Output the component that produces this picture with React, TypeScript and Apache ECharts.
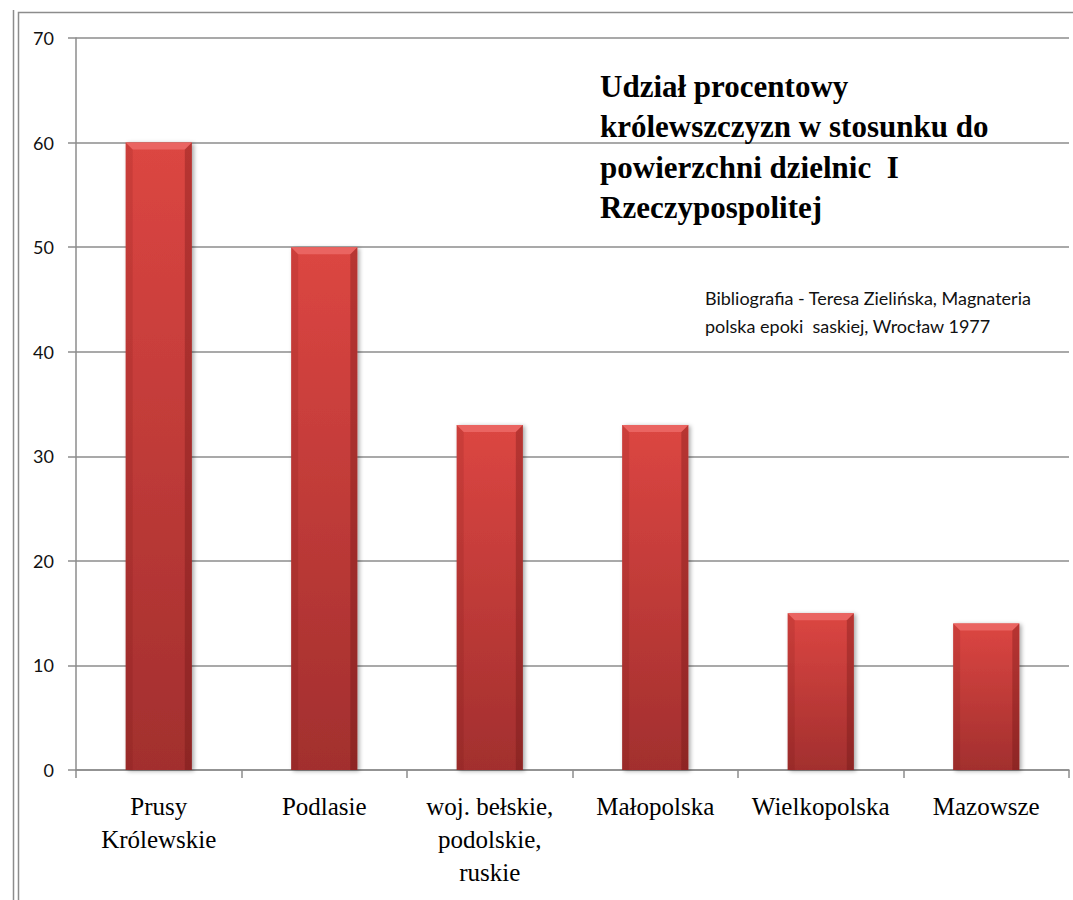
import React, { useEffect, useRef } from "react";
import * as echarts from "echarts";

const categories = [
  "Prusy\nKrólewskie",
  "Podlasie",
  "woj. bełskie,\npodolskie,\nruskie",
  "Małopolska",
  "Wielkopolska",
  "Mazowsze",
];
const values = [60, 50, 33, 33, 15, 14];
const yTicks = { min: 0, max: 70, interval: 10 };
const titleText = "Udział procentowy\nkrólewszczyzn w stosunku do\npowierzchni dzielnic  I\nRzeczypospolitej";
const sourceText = "Bibliografia - Teresa Zielińska, Magnateria\npolska epoki  saskiej, Wrocław 1977";

export default function App() {
  const ref = useRef<HTMLDivElement>(null);
  useEffect(() => {
    if (!ref.current) return;
    const chart = echarts.init(ref.current, undefined, { renderer: "svg" });
    const renderItem = (params: any, api: any) => {
      const idx = api.value(0);
      const v = api.value(1);
      const top = api.coord([idx, v]);
      const base = api.coord([idx, 0]);
      const bw = api.size([1, 0])[0] * 0.4;
      const x0 = top[0] - bw / 2;
      const x1 = top[0] + bw / 2;
      const y0 = top[1];
      const yb = base[1];
      const b = 7;
      return {
        type: "group",
        children: [
          {
            type: "rect",
            shape: { x: x0, y: y0, width: bw, height: yb - y0 },
            style: {
              fill: new echarts.graphic.LinearGradient(0, 0, 0, 1, [
                { offset: 0, color: "#DC4642" },
                { offset: 1, color: "#A22F2E" },
              ]),
              shadowBlur: 4,
              shadowOffsetX: 2,
              shadowOffsetY: 1,
              shadowColor: "rgba(0,0,0,0.35)",
            },
          },
          {
            type: "polygon",
            shape: { points: [[x0, y0], [x1, y0], [x1 - b, y0 + b], [x0 + b, y0 + b]] },
            style: { fill: "#EA6461" },
          },
          {
            type: "polygon",
            shape: { points: [[x1, y0], [x1, yb], [x1 - b, yb], [x1 - b, y0 + b]] },
            style: { fill: "rgba(90,10,10,0.28)" },
          },
          {
            type: "polygon",
            shape: { points: [[x0, y0], [x0 + b, y0 + b], [x0 + b, yb], [x0, yb]] },
            style: { fill: "rgba(90,10,10,0.12)" },
          },
        ],
      };
    };
    chart.setOption({
      animation: false,
      backgroundColor: "#ffffff",
      grid: { left: 76, right: 4, top: 38, bottom: 130, containLabel: false },
      xAxis: {
        type: "category",
        data: categories,
        boundaryGap: true,
        axisLine: { lineStyle: { color: "#8c8c8c", width: 1.5 } },
        axisTick: { show: true, length: 8, lineStyle: { color: "#8c8c8c", width: 1.5 } },
        axisLabel: {
          interval: 0,
          margin: 20,
          color: "#000",
          fontFamily: "Liberation Serif",
          fontSize: 25,
          lineHeight: 33,
        },
      },
      yAxis: {
        type: "value",
        min: yTicks.min,
        max: yTicks.max,
        interval: yTicks.interval,
        axisLine: { show: true, lineStyle: { color: "#8c8c8c", width: 1.5 } },
        axisTick: { show: true, length: 8, lineStyle: { color: "#8c8c8c", width: 1.5 } },
        splitLine: { show: true, lineStyle: { color: "#8c8c8c", width: 1.5 } },
        axisLabel: {
          margin: 22,
          color: "#111",
          fontFamily: "Lato",
          fontSize: 18,
        },
      },
      series: [
        {
          type: "custom",
          renderItem,
          data: values.map((v, i) => [i, v]),
          encode: { x: 0, y: 1 },
          z: 3,
        },
      ],
      graphic: [
        {
          type: "line",
          shape: { x1: 13.5, y1: 10, x2: 13.5, y2: 900 },
          style: { stroke: "#8c8c8c", lineWidth: 1.5 },
          silent: true,
        },
        {
          type: "polyline",
          shape: { points: [[18.5, 900], [18.5, 12.5], [1073, 12.5]] },
          style: { stroke: "#8c8c8c", lineWidth: 1.5, fill: "none" },
          silent: true,
        },
        {
          type: "text",
          left: 600,
          top: 66,
          style: {
            text: titleText,
            font: "bold 31px 'Liberation Serif'",
            lineHeight: 40.5,
            fill: "#000",
          },
          z: 10,
        },
        {
          type: "text",
          left: 705,
          top: 284,
          style: {
            text: sourceText,
            font: "18px Lato",
            lineHeight: 28,
            fill: "#111",
          },
          z: 10,
        },
      ],
    });
    return () => chart.dispose();
  }, []);
  return (
    <div
      ref={ref}
      style={{ position: "fixed", left: 0, top: 0, width: 1073, height: 900, background: "#fff" }}
    />
  );
}
